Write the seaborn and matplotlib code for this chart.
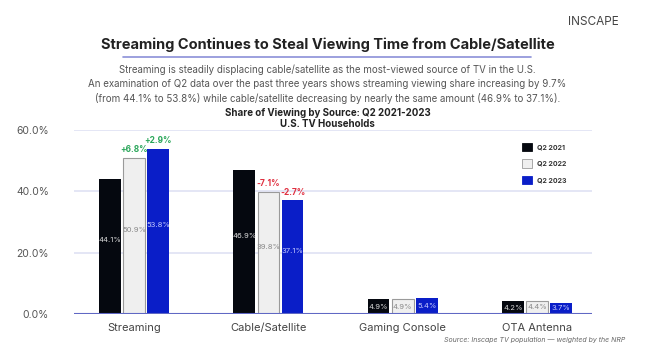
import pandas as pd
import seaborn as sns
import matplotlib.pyplot as plt
from matplotlib.patches import Patch

# Data
sources = ['Streaming', 'Cable/Satellite', 'Gaming Console', 'OTA Antenna']
years = ['Q2 2021', 'Q2 2022', 'Q2 2023']
share_2021 = [44.1, 46.9, 4.9, 4.2]
share_2022 = [50.9, 39.8, 4.9, 4.4]
share_2023 = [53.8, 37.1, 5.4, 3.7]
change_labels = {('Streaming', 'Q2 2022'): '+6.8%', ('Streaming', 'Q2 2023'): '+2.9%',
                 ('Cable/Satellite', 'Q2 2022'): '-7.1%', ('Cable/Satellite', 'Q2 2023'): '-2.7%'}

df = pd.DataFrame({
    'source': sources * 3,
    'year': [y for y in years for _ in sources],
    'share': share_2021 + share_2022 + share_2023,
})

bar_colors = {'Q2 2021': '#05080f', 'Q2 2022': '#efefef', 'Q2 2023': '#0a1ec8'}
label_colors = {'Q2 2021': '#d8d8d8', 'Q2 2022': '#8a8a8a', 'Q2 2023': '#c8ccff'}

sns.set_style('white')
plt.rcParams['font.family'] = ['Inter', 'DejaVu Sans']

fig = plt.figure(figsize=(6.55, 3.53), dpi=100)
ax = fig.add_axes([0.113, 0.110, 0.791, 0.522])

sns.barplot(data=df, x='source', y='share', hue='year', palette=bar_colors,
            width=0.54, gap=0.1, ax=ax, legend=False, saturation=1)

# edges: grey outline on light bars
for cont, yr in zip(ax.containers, years):
    for bar in cont:
        if yr == 'Q2 2022':
            bar.set_edgecolor('#9a9a9a')
            bar.set_linewidth(0.8)
        else:
            bar.set_edgecolor('none')

# value labels and change labels
for cont, yr in zip(ax.containers, years):
    for bar, src in zip(cont, sources):
        h = bar.get_height()
        cx = bar.get_x() + bar.get_width() / 2
        ax.text(cx, h / 2 + 2 if h > 10 else h / 2, f'{h:.1f}%', ha='center', va='center',
                fontsize=5.5, color=label_colors[yr])
        key = (src, yr)
        if key in change_labels:
            txt = change_labels[key]
            col = '#2aa65a' if txt.startswith('+') else '#e03040'
            ax.text(cx, h + 1.2, txt, ha='center', va='bottom', fontsize=6,
                    fontweight='bold', color=col)

ax.set_ylim(0, 60)
ax.set_xlim(-0.447, 3.41)
ax.set_yticks([0, 20, 40, 60])
ax.set_yticklabels(['0.0%', '20.0%', '40.0%', '60.0%'])
ax.yaxis.grid(True, color='#dfe1f3', linewidth=1.2)
ax.set_axisbelow(True)
ax.axhline(0, color='#6068c4', linewidth=1.5, zorder=5)
ax.tick_params(axis='y', labelsize=7.5, labelcolor='#555555', length=0, pad=18)
ax.tick_params(axis='x', labelsize=8, labelcolor='#444444', length=0, pad=6)
ax.set_xlabel('')
ax.set_ylabel('')
for s in ax.spines.values():
    s.set_visible(False)

handles = [Patch(facecolor=bar_colors[y], edgecolor='#9a9a9a' if y == 'Q2 2022' else bar_colors[y],
                 linewidth=0.6) for y in years]
leg = ax.legend(handles, years, loc='upper left', bbox_to_anchor=(0.86, 0.945), frameon=False,
                fontsize=5, handlelength=1.45, handleheight=1.45, labelspacing=1.2,
                handletextpad=0.7, borderaxespad=0)
for t in leg.get_texts():
    t.set_fontweight('bold')
    t.set_color('#333333')

# header texts
fig.text(0.945, 0.938, 'INSCAPE', ha='right', va='center', fontsize=8.5, color='#444444')
fig.text(0.5, 0.872, 'Streaming Continues to Steal Viewing Time from Cable/Satellite',
         ha='center', va='center', fontsize=10.5, fontweight='bold', color='#222222')
fig.add_artist(plt.Line2D([0.188, 0.81], [0.838, 0.838], color='#8b90d8', linewidth=1.2))
subtitle = ('Streaming is steadily displacing cable/satellite as the most-viewed source of TV in the U.S.\n'
            'An examination of Q2 data over the past three years shows streaming viewing share increasing by 9.7%\n'
            '(from 44.1% to 53.8%) while cable/satellite decreasing by nearly the same amount (46.9% to 37.1%).')
fig.text(0.5, 0.762, subtitle, ha='center', va='center', fontsize=7, color='#555555',
         linespacing=1.45)
fig.text(0.5, 0.665, 'Share of Viewing by Source: Q2 2021-2023\nU.S. TV Households',
         ha='center', va='center', fontsize=7, fontweight='bold', color='#222222', linespacing=1.1)
fig.text(0.955, 0.038, 'Source: Inscape TV population \u2014 weighted by the NRP', ha='right',
         va='center', fontsize=5, style='italic', color='#666666')

fig.savefig('out.png', dpi=100)
